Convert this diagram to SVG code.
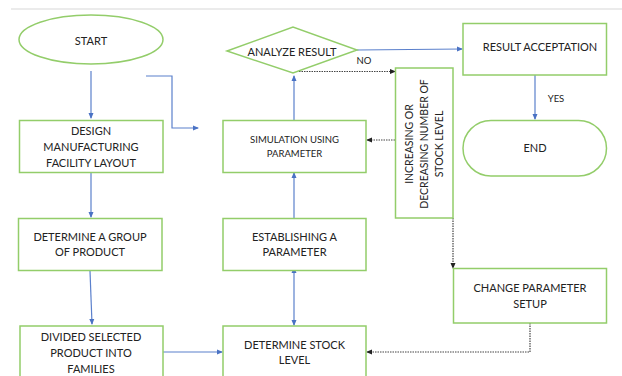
<svg xmlns="http://www.w3.org/2000/svg" width="622" height="376" viewBox="0 0 622 376">
<defs>
<style>
.n{fill:#fff;stroke:#93cd6a;stroke-width:1.5}
.t{font-family:Lato,"Open Sans",sans-serif;font-size:11px;fill:#222;text-anchor:middle}
.s{font-size:9.5px}
.v{font-size:10.5px}
.c{fill:none;stroke:#5b80cc;stroke-width:1.2}
.d{fill:none;stroke:#444;stroke-width:1.2;stroke-dasharray:1.5 1}
</style>
<marker id="ab" viewBox="0 0 6 6" refX="5" refY="3" markerWidth="6" markerHeight="6" orient="auto" markerUnits="userSpaceOnUse"><path d="M0,0.5L6,3L0,5.5z" fill="#4a72c4"/></marker>
<marker id="ab0" viewBox="0 0 6 6" refX="1" refY="3" markerWidth="6" markerHeight="6" orient="auto-start-reverse" markerUnits="userSpaceOnUse"><path d="M0,0.5L6,3L0,5.5z" fill="#4a72c4"/></marker>
<marker id="ak" viewBox="0 0 6 6" refX="5" refY="3" markerWidth="6" markerHeight="6" orient="auto" markerUnits="userSpaceOnUse"><path d="M0,0.5L6,3L0,5.5z" fill="#222"/></marker>
</defs>
<rect x="0" y="0" width="622" height="376" fill="#fff"/>
<line x1="11" y1="9" x2="622" y2="9" stroke="#e4e4e4" stroke-width="1.5"/>

<g id="connectors">
<path class="c" d="M91,71V118" marker-end="url(#ab)"/>
<path class="c" d="M146,76H172V128H198" marker-end="url(#ab)"/>
<path class="c" d="M91,173V217" marker-end="url(#ab)"/>
<path class="c" d="M90,271L92,324" marker-end="url(#ab)"/>
<path class="c" d="M163,352H222" marker-end="url(#ab)"/>
<path class="c" d="M294,272V325" marker-start="url(#ab0)" marker-end="url(#ab)"/>
<path class="c" d="M294,218V173" marker-end="url(#ab)"/>
<path class="c" d="M294,120V76" marker-end="url(#ab)"/>
<path class="c" d="M357,50L462,49" marker-end="url(#ab)"/>
<path class="c" d="M535,75V119" marker-end="url(#ab)"/>
<path class="d" d="M294,71.5H395" marker-end="url(#ak)"/>
<path class="d" d="M395,140H367" marker-end="url(#ak)"/>
<path class="d" d="M453,218V268" marker-end="url(#ak)"/>
<path class="d" d="M530,323V352H367" marker-end="url(#ak)"/>
<text class="t s" x="364" y="64">NO</text>
<text class="t s" x="556" y="102">YES</text>
</g>

<g id="start">
<ellipse class="n" cx="91" cy="39.5" rx="72" ry="24.5"/>
<text class="t" x="91" y="45">START</text>
</g>
<g id="design">
<rect class="n" x="19.5" y="120.5" width="143.5" height="52"/>
<text class="t" x="91" y="135">DESIGN</text>
<text class="t" x="91" y="151">MANUFACTURING</text>
<text class="t" x="91" y="167">FACILITY LAYOUT</text>
</g>
<g id="group">
<rect class="n" x="18.5" y="218.5" width="143.5" height="52"/>
<text class="t" x="90" y="241">DETERMINE A GROUP</text>
<text class="t" x="90" y="256">OF PRODUCT</text>
</g>
<g id="divided">
<rect class="n" x="20" y="326" width="143" height="60"/>
<text class="t" x="91" y="341">DIVIDED SELECTED</text>
<text class="t" x="91" y="357">PRODUCT INTO</text>
<text class="t" x="91" y="373">FAMILIES</text>
</g>
<g id="stock">
<rect class="n" x="223" y="326" width="143" height="60"/>
<text class="t" x="294.5" y="349">DETERMINE STOCK</text>
<text class="t" x="294.5" y="364">LEVEL</text>
</g>
<g id="establishing">
<rect class="n" x="223" y="218.5" width="143" height="52"/>
<text class="t" x="294.5" y="241">ESTABLISHING A</text>
<text class="t" x="294.5" y="256">PARAMETER</text>
</g>
<g id="simulation">
<rect class="n" x="223" y="120.5" width="143" height="52"/>
<text class="t s" x="294.5" y="143">SIMULATION USING</text>
<text class="t s" x="294.5" y="157">PARAMETER</text>
</g>
<g id="analyze">
<polygon class="n" points="227,51 293,27 357,50 293,73"/>
<text class="t" x="292" y="56">ANALYZE RESULT</text>
</g>
<g id="acceptation">
<rect class="n" x="463" y="23.5" width="143.5" height="51.5"/>
<text class="t" x="540" y="51">RESULT ACCEPTATION</text>
</g>
<g id="end">
<rect class="n" x="463" y="120.5" width="143.5" height="55.5" rx="28" ry="28"/>
<text class="t" x="535" y="152">END</text>
</g>
<g id="increasing">
<rect class="n" x="395.5" y="68" width="57.5" height="150"/>
<g transform="translate(424,144) rotate(-90)">
<text class="t v" x="0" y="-11">INCREASING OR</text>
<text class="t v" x="0" y="4">DECREASING NUMBER OF</text>
<text class="t v" x="0" y="19">STOCK LEVEL</text>
</g>
</g>
<g id="change">
<rect class="n" x="453.5" y="268.5" width="153" height="54.5"/>
<text class="t" x="530" y="292">CHANGE PARAMETER</text>
<text class="t" x="530" y="308">SETUP</text>
</g>
</svg>
